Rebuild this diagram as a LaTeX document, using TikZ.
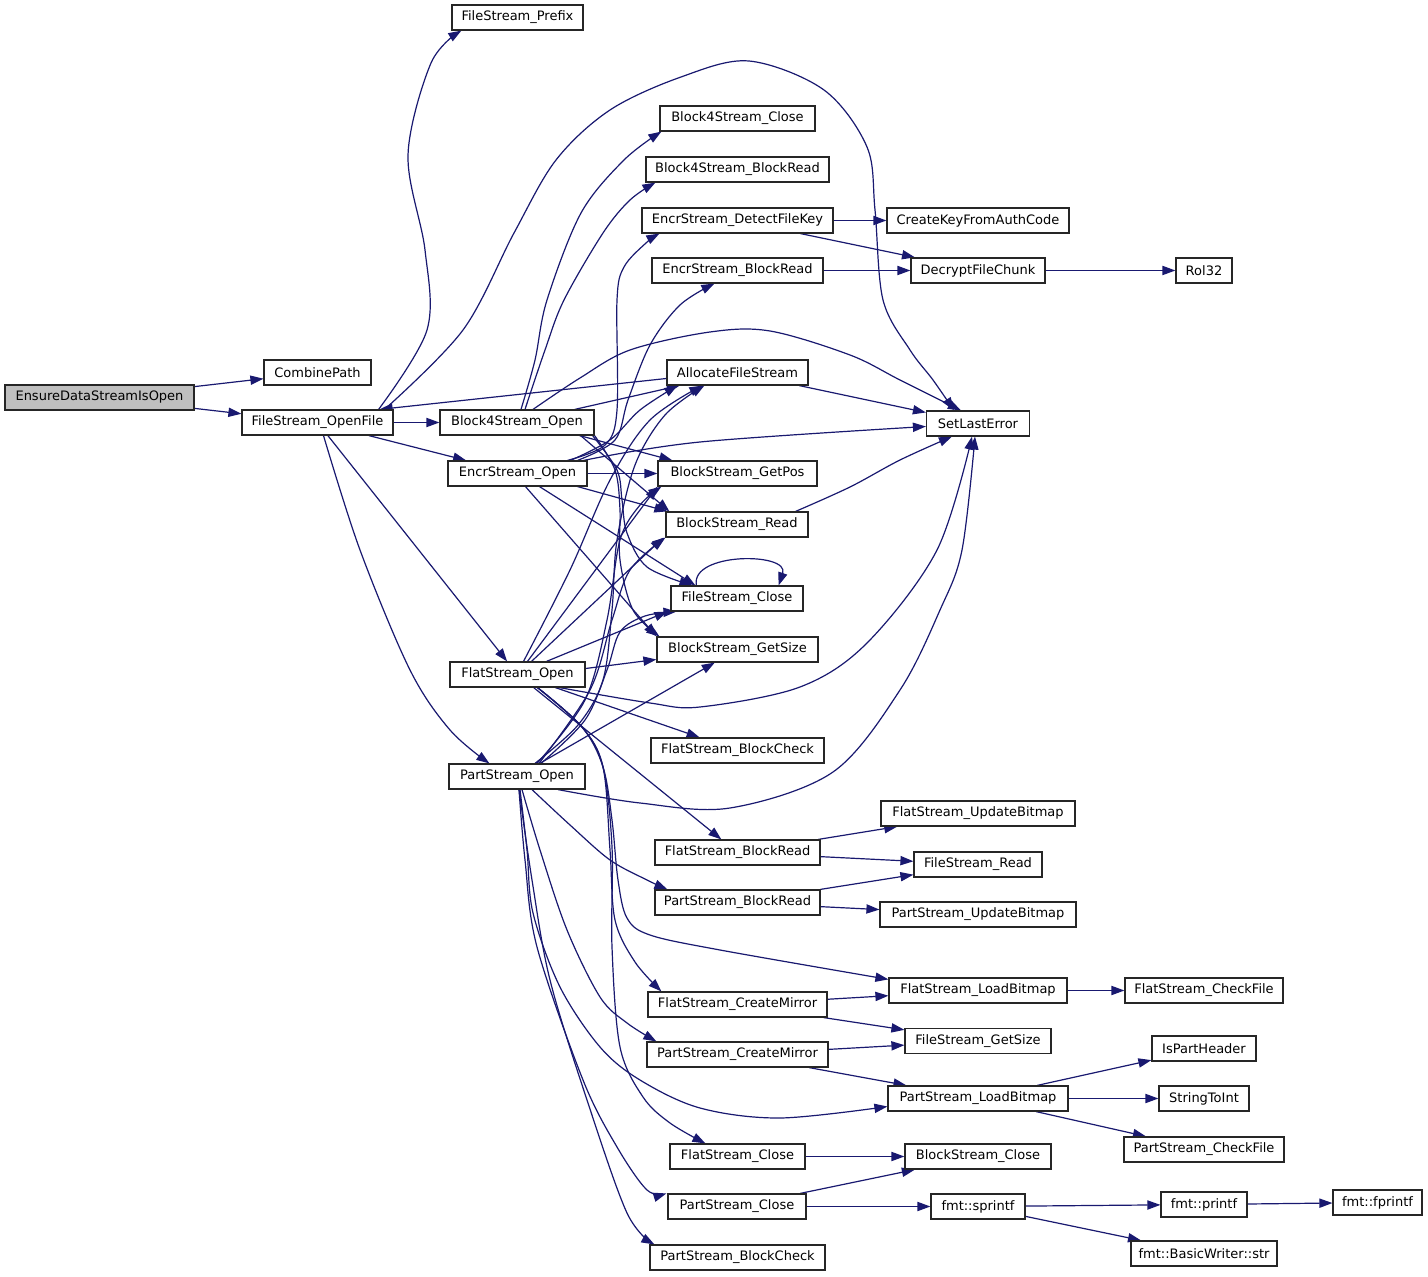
\documentclass[tikz,border=0pt]{standalone}
\usepackage{fontspec}
\setmainfont{DejaVu Sans}
\usetikzlibrary{arrows.meta,calc}
\definecolor{edgec}{RGB}{25,25,112}
\definecolor{grayfill}{RGB}{191,191,191}
\pgfdeclarelayer{edges}
\pgfsetlayers{edges,main}
\tikzset{
  box/.style={draw=black!85, line width=0.6pt, fill=white, inner sep=0pt,
    minimum height=12.5pt, font=\fontsize{6.5}{7.5}\selectfont},
  edge/.style={draw=edgec, line width=0.6pt, -{Triangle[length=6.5pt,width=4.6pt]}},
}
\newcommand\nd[6][]{\node[box,#1,minimum width=#5*0.5pt] (#2) at (#3,#4) {#6};}
\newcommand\edgecurve[1]{\draw[edge] plot[smooth,tension=0.55] coordinates {#1};}
\begin{document}
\begin{tikzpicture}[x=0.5pt,y=-0.5pt]
\useasboundingbox (0,0) rectangle (1428,1277);
% nodes
\nd[fill=grayfill]{ens}{99.5}{397.5}{189}{EnsureDataStreamIsOpen}
\nd{comb}{317.5}{372.5}{107}{CombinePath}
\nd{open}{317.5}{422.5}{151}{FileStream\_OpenFile}
\nd{prefix}{517.5}{17.5}{131}{FileStream\_Prefix}
\nd{b4close}{737.5}{118.5}{155}{Block4Stream\_Close}
\nd{b4read}{737.5}{169.5}{183}{Block4Stream\_BlockRead}
\nd{detect}{737.5}{220.5}{191}{EncrStream\_DetectFileKey}
\nd{cka}{978}{220.5}{182}{CreateKeyFromAuthCode}
\nd{ebread}{737.5}{270.5}{171}{EncrStream\_BlockRead}
\nd{dfc}{978}{270.5}{134}{DecryptFileChunk}
\nd{rol}{1204}{270.5}{56}{Rol32}
\nd{alloc}{737.5}{372.5}{141}{AllocateFileStream}
\nd{sle}{978}{423.5}{103}{SetLastError}
\nd{b4open}{517}{422.5}{154}{Block4Stream\_Open}
\nd{eopen}{517.5}{473.5}{139}{EncrStream\_Open}
\nd{getpos}{737.5}{473.5}{159}{BlockStream\_GetPos}
\nd{bread}{737}{524.5}{142}{BlockStream\_Read}
\nd{fclose}{737}{598.5}{132}{FileStream\_Close}
\nd{getsize}{737.5}{649.5}{161}{BlockStream\_GetSize}
\nd{fopen}{517.5}{674.5}{135}{FlatStream\_Open}
\nd{fbcheck}{737.5}{750.5}{173}{FlatStream\_BlockCheck}
\nd{popen}{517}{776.5}{136}{PartStream\_Open}
\nd{fupd}{978}{813.5}{194}{FlatStream\_UpdateBitmap}
\nd{fbread}{737.5}{852.5}{165}{FlatStream\_BlockRead}
\nd{fread}{978}{864.5}{128}{FileStream\_Read}
\nd{pbread}{737.5}{902.5}{165}{PartStream\_BlockRead}
\nd{pupd}{978}{914.5}{196}{PartStream\_UpdateBitmap}
\nd{flb}{978}{990.5}{178}{FlatStream\_LoadBitmap}
\nd{fcf}{1204}{990.5}{158}{FlatStream\_CheckFile}
\nd{fcm}{737.5}{1004.5}{179}{FlatStream\_CreateMirror}
\nd{fgs}{978}{1041}{146}{FileStream\_GetSize}
\nd{iph}{1204}{1048.5}{104}{IsPartHeader}
\nd{pcm}{737.5}{1054.5}{181}{PartStream\_CreateMirror}
\nd{plb}{978}{1098.5}{180}{PartStream\_LoadBitmap}
\nd{sti}{1204}{1098.5}{90}{StringToInt}
\nd{pcf}{1204}{1149.5}{160}{PartStream\_CheckFile}
\nd{fsc}{737.5}{1156.5}{135}{FlatStream\_Close}
\nd{bsc}{978}{1156.5}{146}{BlockStream\_Close}
\nd{psc}{737}{1206.5}{138}{PartStream\_Close}
\nd{spr}{978}{1206.5}{94}{fmt::sprintf}
\nd{prf}{1204}{1204.5}{86}{fmt::printf}
\nd{fpr}{1377.5}{1202.5}{89}{fmt::fprintf}
\nd{bws}{1204}{1253.5}{146}{fmt::BasicWriter::str}
\nd{pbc}{737.5}{1257.5}{175}{PartStream\_BlockCheck}

\begin{pgfonlayer}{edges}
\fill[white] (0,0) rectangle (1428,1277);
% EnsureDataStreamIsOpen
\draw[edge] (ens) -- (comb);
\draw[edge] (ens) -- (open);
% FileStream_OpenFile
\draw[edge] (open) -- (b4open);
\draw[edge] (open) -- (eopen);
\draw[edge] (open) -- (fopen);
\edgecurve{($(open.north east)+(-15,0)$) (427,330) (425,250) (408,155) (431,63) ($(prefix.south west)+(10,0)$)}
\edgecurve{($(open.north east)+(-9,0)$) (463,330) (514,233) (556,160) (610,110) (681,77) (749,61) (824,90) (867,147) (875,210) (883,300) (910,350) (933,380) ($(sle.north west)+(28,0)$)}
\edgecurve{($(open.south)+(6,0)$) (360,550) (410,670) (450,730) ($(popen.north west)+(41,0)$)}
\draw[edge] ($(alloc.west)+(0,6)$) -- ($(open.north east)+(-14,0)$);
% Block4Stream_Open
\edgecurve{($(b4open.north)+(4,0)$) (535,360) (547,300) (581,213) (624,160) ($(b4close.south west)+(2,0)$)}
\edgecurve{($(b4open.north)+(8,0)$) (545,350) (564,300) (603,233) (630,200) ($(b4read.south west)+(10,0)$)}
\edgecurve{($(b4open.north)+(16,0)$) (580,378) (630,350) (710,332) (770,331) (850,355) (900,380) ($(sle.north west)+(35,0)$)}
\draw[edge] (b4open) -- (alloc);
\draw[edge] ($(b4open.south east)+(-15,0)$) -- ($(getpos.north west)+(15,0)$);
\draw[edge] ($(b4open.south east)+(-14,0)$) -- ($(bread.north west)+(4,0)$);
\edgecurve{($(b4open.south east)+(-2,0)$) (617,470) (622,500) (627,533) (647,567) ($(fclose.north west)+(22,0)$)}
\edgecurve{($(b4open.south east)+(0,0)$) (615,470) (620,510) (620,560) (633,610) ($(getsize.north west)+(3,0)$)}
% EncrStream_Open
\edgecurve{($(eopen.north)+(50,0)$) (605,445) (617,410) (617,300) (624,267) (646,243) ($(detect.south west)+(18,0)$)}
\edgecurve{($(eopen.north)+(60,0)$) (615,440) (628,400) (650,345) (680,305) ($(ebread.south west)+(63,0)$)}
\edgecurve{($(eopen.north)+(53,0)$) (610,440) (640,410) ($(alloc.south west)+(11,0)$)}
\edgecurve{($(eopen.north east)+(-4,0)$) (700,442) ($(sle.west)+(0,3)$)}
\draw[edge] (eopen) -- (getpos);
\draw[edge] ($(eopen.south east)+(-10,0)$) -- ($(bread.north west)+(2,0)$);
\draw[edge] ($(eopen.south)+(22,0)$) -- ($(fclose.north west)+(25,0)$);
\draw[edge] ($(eopen.south)+(8,0)$) -- ($(getsize.north west)+(0,0)$);
% FlatStream_Open
\edgecurve{($(fopen.north)+(6,0)$) (570,570) (610,480) (650,420) ($(alloc.south west)+(36,0)$)}
\draw[edge] ($(fopen.north)+(10,0)$) -- (getpos.south west);
\draw[edge] ($(fopen.north)+(14,0)$) -- ($(bread.south west)+(-2,0)$);
\draw[edge] ($(fopen.north)+(29,0)$) -- ($(fclose.south west)+(-3,0)$);
\draw[edge] ($(fopen.east)+(0,-6)$) -- ($(getsize.west)+(0,10)$);
\edgecurve{($(fopen.south)+(42,0)$) (650,703) (700,707) (800,687) (867,643) (937,550) ($(sle.south)+(-6,0)$)}
\draw[edge] (fopen) -- (fbcheck);
\draw[edge] (fopen) -- (fbread);
\edgecurve{($(fopen.south)+(20,0)$) (582,727) (603,767) (612,820) (618,880) (627,918) (650,935) (720,950) ($(flb.north west)+(0,2)$)}
\edgecurve{($(fopen.south)+(20,0)$) (582,727) (603,767) (610,850) (615,920) (635,962) ($(fcm.north west)+(14,0)$)}
\edgecurve{($(fopen.south)+(20,0)$) (582,727) (603,767) (612,847) (612,947) (620,1047) (643,1097) (670,1123) ($(fsc.north west)+(36,0)$)}
% PartStream_Open
\edgecurve{($(popen.north)+(18,0)$) (578,725) (603,680) (612,610) (617,540) (635,465) (665,415) ($(alloc.south west)+(38,0)$)}
\edgecurve{($(popen.north)+(20,0)$) (585,700) (607,620) (620,540) (640,505) ($(getpos.south west)+(4,0)$)}
\edgecurve{($(popen.north)+(22,0)$) (590,690) (612,620) (630,570) ($(bread.south west)+(0,0)$)}
\edgecurve{($(popen.north)+(24,0)$) (585,720) (607,670) (620,632) (645,616) ($(fclose.south west)+(6,0)$)}
\draw[edge] (popen) -- (getsize);
\edgecurve{($(popen.south)+(41,0)$) (640,803) (730,808) (833,772) (900,690) (940,610) (962,550) ($(sle.south)+(-3,0)$)}
\edgecurve{($(popen.south)+(15,0)$) (570,825) (610,860) (647,880) ($(pbread.north west)+(13,0)$)}
\edgecurve{($(popen.south)+(5,0)$) (540,850) (567,930) (600,997) (627,1023) ($(pcm.north west)+(10,0)$)}
\edgecurve{($(popen.south)+(3,0)$) (527,850) (533,913) (560,987) (600,1047) (640,1080) (700,1108) (780,1118) ($(plb.west)+(0,8)$)}
\edgecurve{($(popen.south)+(2,0)$) (525,860) (537,947) (583,1080) (617,1147) (647,1190) ($(psc.north west)+(-1,0)$)}
\edgecurve{($(popen.south)+(2,0)$) (532,880) (550,980) (587,1100) (627,1213) ($(pbc.north west)+(5,0)$)}
% FileStream_Close self loop
\draw[edge] ($(fclose.north west)+(26,0)$) .. controls (690,552) and (790,552) .. ($(fclose.north east)+(-25,0)$);
% right side
\draw[edge] (detect) -- (cka);
\draw[edge] (detect) -- (dfc);
\draw[edge] (ebread) -- (dfc);
\draw[edge] (dfc) -- (rol);
\draw[edge] (alloc) -- (sle);
\edgecurve{($(bread.north east)+(-13,0)$) (850,487) (900,460) ($(sle.south west)+(26,0)$)}
\draw[edge] (fbread) -- (fupd);
\draw[edge] (fbread) -- (fread);
\draw[edge] (pbread) -- (fread);
\draw[edge] (pbread) -- (pupd);
\draw[edge] (fcm) -- (flb);
\draw[edge] (fcm) -- (fgs);
\draw[edge] (flb) -- (fcf);
\draw[edge] (pcm) -- (fgs);
\draw[edge] (pcm) -- (plb);
\draw[edge] (plb) -- (iph);
\draw[edge] (plb) -- (sti);
\draw[edge] (plb) -- (pcf);
\draw[edge] (fsc) -- (bsc);
\draw[edge] (psc) -- (bsc);
\draw[edge] (psc) -- (spr);
\draw[edge] (spr) -- (prf);
\draw[edge] (spr) -- (bws);
\draw[edge] (prf) -- (fpr);
\end{pgfonlayer}
\end{tikzpicture}
\end{document}
